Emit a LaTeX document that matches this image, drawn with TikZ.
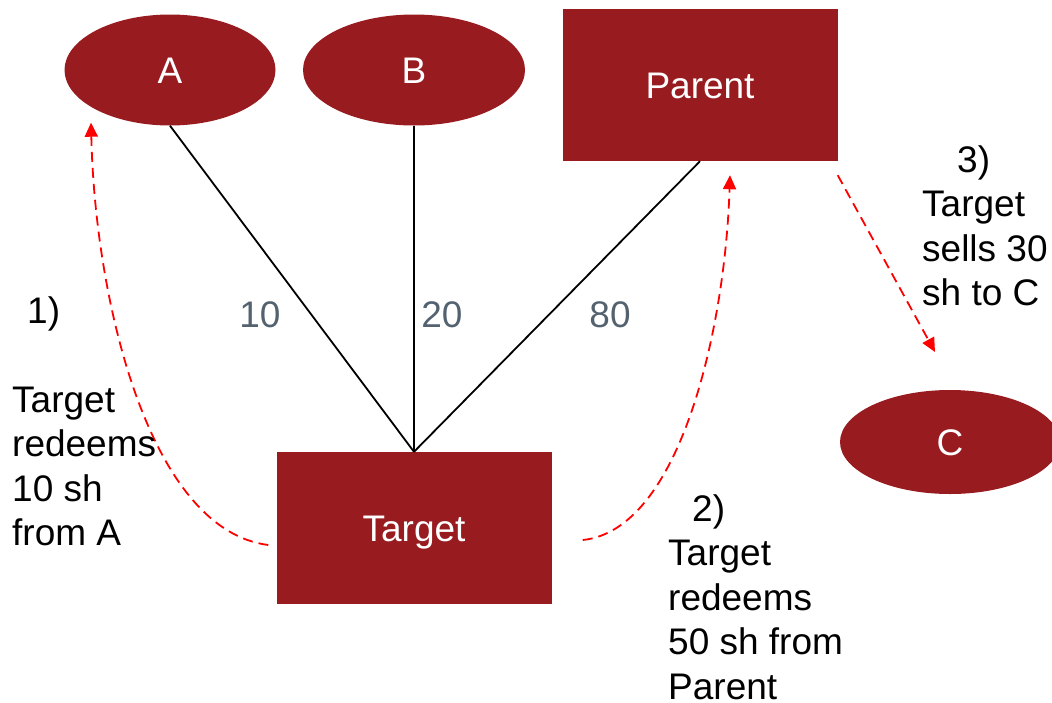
\documentclass[tikz,border=0pt]{standalone}
\usepackage{fontspec}
\setmainfont{Liberation Sans}
\usetikzlibrary{shapes.geometric,arrows.meta}
\definecolor{boxred}{RGB}{152,27,32}
\definecolor{slate}{RGB}{84,98,112}
\begin{document}
\begin{tikzpicture}[x=1pt,y=-1pt,
  every node/.style={font=\fontsize{37}{44.5}\selectfont},
  party/.style={ellipse, fill=boxred, text=white, inner sep=0pt,
    text height=26.5pt, text depth=0pt},
  entity/.style={rectangle, fill=boxred, text=white, inner sep=0pt,
    minimum width=275pt, minimum height=152pt, text height=26.5pt, text depth=0pt},
  stake/.style={text=slate, inner sep=0pt, text height=26.5pt, text depth=0pt},
  note/.style={align=left, inner sep=0pt, anchor=north west},
  holding/.style={black, line width=1.8pt},
  flow/.style={red, line width=1.8pt, dash pattern=on 10pt off 6pt,
    -{Triangle[length=14pt,width=13pt]}}
]
\useasboundingbox (0,0) rectangle (1052,702);

% shareholders and companies
\node[party, minimum width=211pt, minimum height=111pt] (A) at (170,70) {A};
\node[party, minimum width=222pt, minimum height=111pt] (B) at (414,70) {B};
\node[entity] (Parent) at (700,85) {Parent};
\node[entity] (Target) at (414,528) {Target};
\node[party, minimum width=220pt, minimum height=104pt] (C) at (950,442) {C};

% holdings in the target
\draw[holding] (A.south) -- (Target.north);
\draw[holding] (B.south) -- (Target.north);
\draw[holding] (Parent.south) -- (Target.north);
\node[stake] (s10) at (260,314) {10};
\node[stake] (s20) at (442,314) {20};
\node[stake] (s80) at (610,314) {80};

% transactions
\draw[flow] ([shift={(-8,17)}]Target.west)
  .. controls +(-119,-15) and +(4,178) .. ([shift={(-79,-3)}]A.south);
\draw[flow] ([shift={(31,12)}]Target.east)
  .. controls +(97,-10) and +(-5,155) .. ([shift={(30,14)}]Parent.south);
\draw[flow] ([shift={(0,14)}]Parent.south east) -- ([shift={(-15,-90)}]C.center);

% step descriptions
\node[note] (n1) at (12,296) {\hspace*{15pt}1)\\[44.5pt]Target\\redeems\\10 sh\\from A};
\node[note] (n2) at (668,494) {\hspace*{24pt}2)\\Target\\redeems\\50 sh from\\Parent};
\node[note] (n3) at (922,145) {\hspace*{35pt}3)\\Target\\sells 30\\sh to C};
\end{tikzpicture}
\end{document}
